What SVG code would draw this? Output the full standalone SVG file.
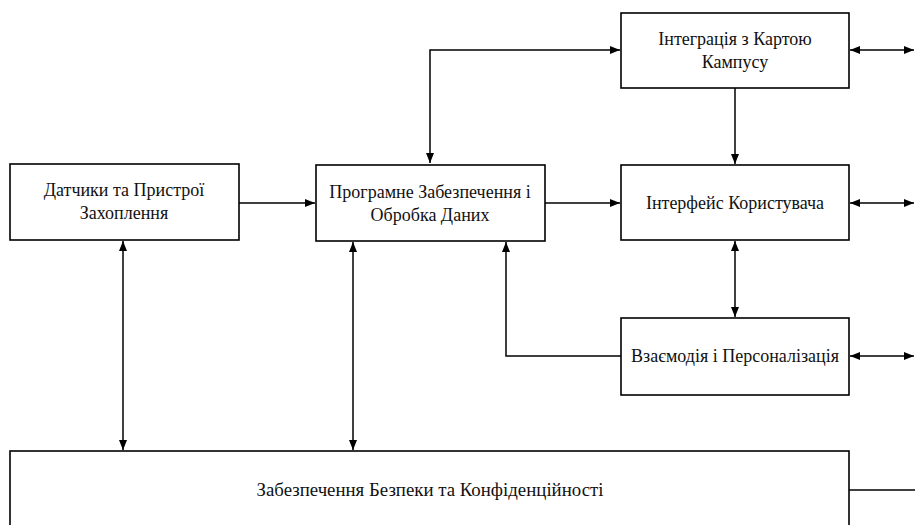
<svg xmlns="http://www.w3.org/2000/svg" width="915" height="525" viewBox="0 0 915 525">
<style>
.box{fill:#fff;stroke:#000;stroke-width:1.6}
.t{font-size:18px;fill:#111;text-anchor:middle}
.c{fill:none;stroke:#000;stroke-width:1.5}
</style>
<defs>
<marker id="ah" viewBox="0 0 10 8" refX="10" refY="4" markerWidth="10" markerHeight="8" markerUnits="userSpaceOnUse" orient="auto-start-reverse">
<path d="M0,0 L10,4 L0,8 Z" fill="#000"/>
</marker>
</defs>
<rect width="915" height="525" fill="#fff"/>
<g font-family="Liberation Serif, Times New Roman, serif">
<g id="n-integration">
<rect class="box" x="621" y="13" width="228" height="75"/>
<text class="t" x="735" y="45">Інтеграція з Картою</text>
<text class="t" x="735" y="68">Кампусу</text>
</g>
<g id="n-interface">
<rect class="box" x="621" y="165" width="228" height="75"/>
<text class="t" x="735" y="209">Інтерфейс Користувача</text>
</g>
<g id="n-software">
<rect class="box" x="316" y="165" width="229" height="76"/>
<text class="t" x="430" y="198">Програмне Забезпечення і</text>
<text class="t" x="430" y="221">Обробка Даних</text>
</g>
<g id="n-sensors">
<rect class="box" x="10" y="164" width="229" height="76"/>
<text class="t" x="124" y="196">Датчики та Пристрої</text>
<text class="t" x="124" y="219">Захоплення</text>
</g>
<g id="n-interaction">
<rect class="box" x="621" y="318" width="228" height="77"/>
<text class="t" x="735" y="362">Взаємодія і Персоналізація</text>
</g>
<g id="n-security">
<rect class="box" x="10" y="451" width="839" height="90"/>
<text class="t" x="430" y="496" textLength="347" lengthAdjust="spacingAndGlyphs">Забезпечення Безпеки та Конфіденційності</text>
</g>
</g>
<g id="connectors">
<path class="c" d="M430,163 L430,50 L620,50" marker-start="url(#ah)" marker-end="url(#ah)"/>
<path class="c" d="M850,50 L914,50" marker-start="url(#ah)" marker-end="url(#ah)"/>
<path class="c" d="M735,88 L735,164" marker-end="url(#ah)"/>
<path class="c" d="M239,203 L315,203" marker-end="url(#ah)"/>
<path class="c" d="M545,203 L620,203" marker-end="url(#ah)"/>
<path class="c" d="M850,203 L914,203" marker-start="url(#ah)" marker-end="url(#ah)"/>
<path class="c" d="M735,241 L735,317" marker-start="url(#ah)" marker-end="url(#ah)"/>
<path class="c" d="M621,356 L506,356 L506,242" marker-end="url(#ah)"/>
<path class="c" d="M850,356 L914,356" marker-start="url(#ah)" marker-end="url(#ah)"/>
<path class="c" d="M123,241 L123,450" marker-start="url(#ah)" marker-end="url(#ah)"/>
<path class="c" d="M353,242 L353,450" marker-start="url(#ah)" marker-end="url(#ah)"/>
<path class="c" d="M849,490 L915,490"/>
</g>
</svg>
